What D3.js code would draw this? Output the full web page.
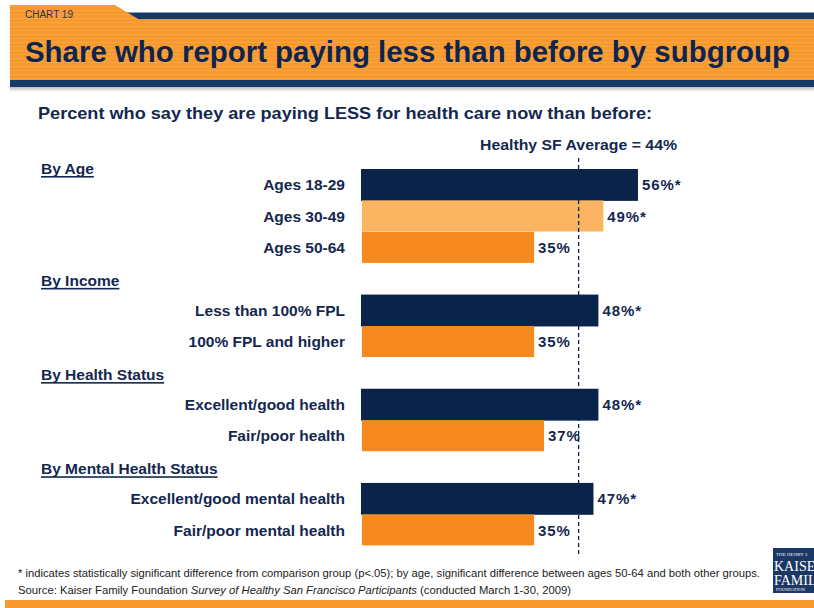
<!DOCTYPE html>
<html>
<head>
<meta charset="utf-8">
<script src="https://cdn.jsdelivr.net/npm/d3@7/dist/d3.min.js"></script>
<style>
html,body{margin:0;padding:0;background:#fff;}
svg{display:block;font-family:"Liberation Sans",Arial,sans-serif;}
</style>
</head>
<body>
<svg id="chart" width="814" height="608"></svg>
<script>
// ---- data ----
const groups = ["By Age", "By Income", "By Health Status", "By Mental Health Status"];
const categories = ["Ages 18-29", "Ages 30-49", "Ages 50-64",
  "Less than 100% FPL", "100% FPL and higher",
  "Excellent/good health", "Fair/poor health",
  "Excellent/good mental health", "Fair/poor mental health"];
const categoryGroup = [0, 0, 0, 1, 1, 2, 2, 3, 3];
const values = [56, 49, 35, 48, 35, 48, 37, 47, 35];
const significant = [true, true, false, true, false, true, false, true, false];
const averageValue = 44;
const averageLabel = "Healthy SF Average = 44%";
const chartTitle = "Share who report paying less than before by subgroup";
const chartNumber = "CHART 19";
const subtitle = "Percent who say they are paying LESS for health care now than before:";
const footnote = "* indicates statistically significant difference from comparison group (p<.05); by age, significant difference between ages 50-64 and both other groups.";
const sourcePrefix = "Source: Kaiser Family Foundation ";
const sourceItalic = "Survey of Healthy San Francisco Participants";
const sourceSuffix = " (conducted March 1-30, 2009)";

// ---- styles ----
const NAVY = "#0a2349";
const TEXT = "#14284f";
const ORANGE = "#f6891f";
const LIGHT_ORANGE = "#fbb461";
const HEADER_ORANGE = "#f7992d";

const svg = d3.select("#chart");
const defs = svg.append("defs");
const pat = defs.append("pattern").attr("id", "stripes").attr("patternUnits", "userSpaceOnUse")
  .attr("width", 8).attr("height", 4);
pat.append("rect").attr("width", 8).attr("height", 4).attr("fill", HEADER_ORANGE);
pat.append("rect").attr("y", 2).attr("width", 8).attr("height", 1).attr("fill", "#f9a94a").attr("opacity", 0.8);
const grad = defs.append("linearGradient").attr("id", "shadow").attr("x1", 0).attr("y1", 0).attr("x2", 0).attr("y2", 1);
grad.append("stop").attr("offset", 0).attr("stop-color", "#b8bcc4");
grad.append("stop").attr("offset", 1).attr("stop-color", "#ffffff");

// ---- header banner ----
svg.append("rect").attr("x", 10).attr("y", 87).attr("width", 804).attr("height", 5).attr("fill", "url(#shadow)");
svg.append("rect").attr("x", 120).attr("y", 12.5).attr("width", 694).attr("height", 7).attr("fill", "#163a66");
svg.append("path")
  .attr("d", "M10,5 L115,5 L139,19.5 L814,19.5 L814,80 L10,80 Z")
  .attr("fill", "url(#stripes)");
svg.append("rect").attr("x", 10).attr("y", 80).attr("width", 804).attr("height", 7).attr("fill", "#163a66");
svg.append("text").attr("x", 25).attr("y", 18).attr("font-size", 10).attr("fill", "#2b3550")
  .text(chartNumber);
svg.append("text").attr("x", 25).attr("y", 62).attr("font-size", 30).attr("font-weight", "bold")
  .attr("fill", "#0d2550").attr("textLength", 765).attr("lengthAdjust", "spacingAndGlyphs")
  .text(chartTitle);

// subtitle
svg.append("text").attr("x", 38).attr("y", 119).attr("font-size", 17).attr("font-weight", "bold")
  .attr("fill", TEXT).attr("textLength", 614).attr("lengthAdjust", "spacingAndGlyphs").text(subtitle);

// ---- scales ----
const slots = [];
groups.forEach((g, gi) => {
  if (gi > 0) slots.push("gap-" + gi);
  categories.forEach((c, ci) => { if (categoryGroup[ci] === gi) slots.push("cat-" + ci); });
});
const y = d3.scaleBand().domain(slots).range([169, 545.7]).paddingInner(0).paddingOuter(0);
const x = d3.scaleLinear().domain([0, 100]).range([361, 361 + 494.6]);

function barColor(i) {
  const gi = categoryGroup[i];
  const first = categoryGroup.indexOf(gi);
  if (i === first) return NAVY;
  if (gi === 0 && i === first + 1) return LIGHT_ORANGE;
  return ORANGE;
}

const data = categories.map((c, i) => ({ c, i, v: values[i], sig: significant[i], g: categoryGroup[i] }));

// bars
svg.append("g").selectAll("rect").data(data).join("rect")
  .attr("x", d => x(0) + (barColor(d.i) === NAVY ? 0 : 1))
  .attr("y", d => y("cat-" + d.i))
  .attr("width", d => x(d.v) - x(0) - (barColor(d.i) === NAVY ? 0 : 1))
  .attr("height", d => y.bandwidth() + (barColor(d.i) === NAVY ? 0.5 : -0.3))
  .attr("fill", d => barColor(d.i));

// average line
svg.append("line")
  .attr("x1", x(averageValue)).attr("x2", x(averageValue))
  .attr("y1", 158).attr("y2", 556)
  .attr("stroke", NAVY).attr("stroke-width", 1.3).attr("stroke-dasharray", "4,3");
svg.append("text").attr("x", 480).attr("y", 150)
  .attr("font-size", 15).attr("font-weight", "bold").attr("fill", TEXT)
  .attr("textLength", 197).attr("lengthAdjust", "spacingAndGlyphs").text(averageLabel);

// category labels
svg.append("g").selectAll("text").data(data).join("text")
  .attr("x", 345).attr("y", d => y("cat-" + d.i) + y.bandwidth() / 2 + 5.5)
  .attr("text-anchor", "end").attr("font-size", 15.5).attr("font-weight", "bold")
  .attr("fill", TEXT).text(d => d.c);

// value labels
svg.append("g").selectAll("text").data(data).join("text")
  .attr("x", d => x(d.v) + 4).attr("y", d => y("cat-" + d.i) + y.bandwidth() / 2 + 5.5)
  .attr("font-size", 15).attr("font-weight", "bold").attr("letter-spacing", 0.9)
  .attr("fill", TEXT).text(d => d.v + "%" + (d.sig ? "*" : ""));

// group headers
const hg = svg.append("g");
groups.forEach((g, gi) => {
  const firstIdx = categoryGroup.indexOf(gi);
  const yy = gi === 0 ? y("cat-" + firstIdx) + 5 : y("gap-" + gi) + y.bandwidth() / 2 + 7;
  const t = hg.append("text").attr("x", 41).attr("y", yy).attr("font-size", 15.5)
    .attr("font-weight", "bold").attr("fill", TEXT).text(g);
  const w = t.node().getComputedTextLength();
  hg.append("rect").attr("x", 41).attr("y", yy + 2).attr("width", w).attr("height", 1.6).attr("fill", TEXT);
});

// footnotes
svg.append("text").attr("x", 18).attr("y", 577).attr("font-size", 11.5).attr("fill", "#222")
  .attr("textLength", 742).attr("lengthAdjust", "spacingAndGlyphs").text(footnote);
const src = svg.append("text").attr("x", 18).attr("y", 594).attr("font-size", 11.5).attr("fill", "#222");
src.append("tspan").text(sourcePrefix);
src.append("tspan").attr("font-style", "italic").text(sourceItalic);
src.append("tspan").text(sourceSuffix);
src.attr("textLength", 553).attr("lengthAdjust", "spacingAndGlyphs");

// bottom bar
svg.append("rect").attr("x", 5).attr("y", 600).attr("width", 809).attr("height", 8).attr("fill", HEADER_ORANGE);

// logo (cut off at the right edge, as in the original slide)
const logo = svg.append("g").attr("font-family", "'Liberation Serif','DejaVu Serif',serif").attr("fill", "#fff");
logo.append("rect").attr("x", 773).attr("y", 548).attr("width", 41).attr("height", 45).attr("fill", "#1b3763");
logo.append("text").attr("x", 776).attr("y", 556).attr("font-size", 5).text("THE HENRY J.");
logo.append("text").attr("x", 774).attr("y", 571).attr("font-size", 14).text("KAISER");
logo.append("text").attr("x", 774).attr("y", 585).attr("font-size", 14).text("FAMILY");
logo.append("text").attr("x", 776).attr("y", 591).attr("font-size", 4.5).text("FOUNDATION");
</script>
</body>
</html>
